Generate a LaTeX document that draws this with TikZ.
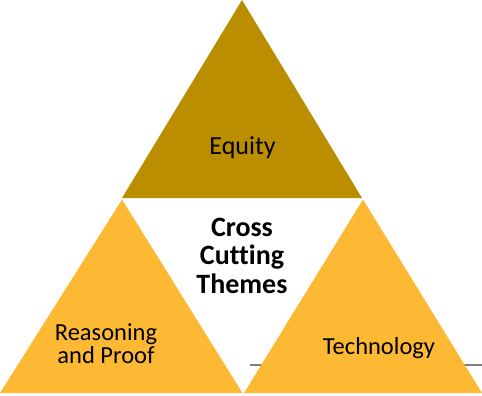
\documentclass[tikz,border=0pt]{standalone}
\usepackage{fontspec}
\setmainfont{Carlito}[Ligatures=NoCommon]
\usetikzlibrary{positioning}
\definecolor{equitygold}{RGB}{187,142,0}
\definecolor{themeyellow}{RGB}{253,185,51}
\definecolor{ruleline}{RGB}{128,128,128}

\begin{document}
\begin{tikzpicture}[x=1pt, y=-1pt, every node/.style={font=\fontsize{24.5}{23}\selectfont, align=center, inner sep=0pt, anchor=base}]
	\useasboundingbox (0,0) rectangle (482,396);

	% Corners
	\coordinate (top)   at (242,0);
	\coordinate (midl)  at (122,198);
	\coordinate (midr)  at (362,198);
	\coordinate (botl)  at (0,393);
	\coordinate (botr)  at (482,393);

	% Rule behind the right triangle
	\draw[ruleline, line width=1.5pt] (250,365) -- (482,365);

	% Triangles
	\fill[equitygold] (top) -- (midr) -- (midl) -- cycle;
	\fill[themeyellow] (122,199.5) -- (242.5,393) -- (botl) -- cycle;
	\fill[themeyellow] (363,199.5) -- (botr) -- (244,393) -- cycle;

	% Labels (base = baseline of the last line)
	\node[font=\fontsize{26}{22}\selectfont] (equity) at (242.5,154) {Equity};
	\node[font=\bfseries\fontsize{28}{28.5}\selectfont] (themes) at (242,293) {Cross\\Cutting\\Themes};
	\node (reasoning) at (106,363.5) {Reasoning\\and Proof};
	\node (technology) at (379,354) {Technology};
\end{tikzpicture}
\end{document}
